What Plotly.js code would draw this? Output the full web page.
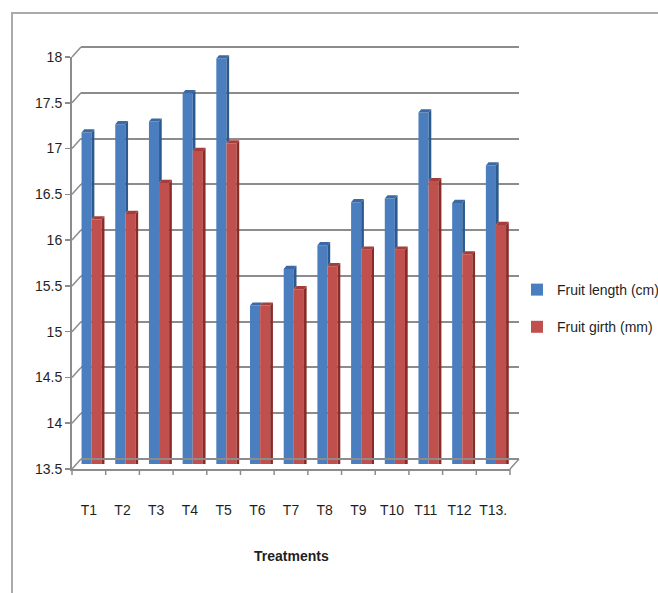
<!DOCTYPE html>
<html>
<head>
<meta charset="utf-8">
<script src="https://cdn.plot.ly/plotly-3.0.1.min.js"></script>
<style>
  html, body { margin: 0; padding: 0; background: #ffffff; }
  #wrap { position: relative; width: 658px; height: 593px; overflow: hidden; }
  #chart { width: 658px; height: 593px; }
  #frame { position: absolute; left: 11px; top: 12px; width: 700px; height: 700px;
           border-left: 2px solid #ababab; border-top: 2px solid #ababab; pointer-events: none; }
</style>
</head>
<body>
<div id="wrap"><div id="chart"></div><div id="frame"></div></div>
<script>
// Treatments on the category axis
const treatments = ['T1', 'T2', 'T3', 'T4', 'T5', 'T6', 'T7', 'T8', 'T9', 'T10', 'T11', 'T12', 'T13.'];
// Fruit length (cm)
const fruitLength = [17.12, 17.21, 17.24, 17.55, 17.93, 15.23, 15.63, 15.89, 16.36, 16.40, 17.34, 16.35, 16.76];
// Fruit girth (mm)
const fruitGirth = [16.17, 16.23, 16.57, 16.92, 17.00, 15.23, 15.41, 15.66, 15.84, 15.84, 16.59, 15.79, 16.11];
// Value axis ticks
const yTickVals = [13.5, 14, 14.5, 15, 15.5, 16, 16.5, 17, 17.5, 18];
const yTickText = ['13.5', '14', '14.5', '15', '15.5', '16', '16.5', '17', '17.5', '18'];
const seriesNames = ['Fruit length (cm)', 'Fruit girth (mm)'];

// ---- pseudo-3D geometry: front plane (axes), middle plane (bars), back wall (grid)
const PLOT_W = 447, PLOT_H = 422;          // plot area in px
const SPAN_W = 438, SPAN_H = 412;          // size of each plane in px
const FRONT = { dx: 0, dy: 0 }, MID = { dx: 4.5, dy: 5 }, BACK = { dx: 9, dy: 10 };
function domainOf(p) {
  return {
    x: [p.dx / PLOT_W, (p.dx + SPAN_W) / PLOT_W],
    y: [p.dy / PLOT_H, (p.dy + SPAN_H) / PLOT_H]
  };
}
const yRange = [13.5, 18];
const xRange = [-0.5, treatments.length - 0.5];
const idx = treatments.map((_, i) => i);

const BLUE = '#4a7ebf', BLUE_SIDE = '#2c5a8e', BLUE_TOP = '#3a69a3';
const RED = '#c0504d', RED_SIDE = '#8a2b28', RED_TOP = '#a53e3b';
const GRID = '#8c8c8c';
const FONT = '"Liberation Sans Narrow", "Liberation Sans", Arial, sans-serif';

const barW = 0.3, blueOff = -0.35, redOff = -0.05;
const depthX = 0.08;      // side-face depth, category units
const depthY = 0.035;     // top-face rise, value units

const traces = [
  // empty placeholder so the back-wall subplot (and its grid) exists
  { type: 'scatter', mode: 'lines', x: [xRange[0]], y: [null], xaxis: 'x', yaxis: 'y',
    showlegend: false, hoverinfo: 'skip' },
  {
    type: 'bar', name: seriesNames[0], x: idx, y: fruitLength,
    offset: blueOff, width: barW, xaxis: 'x2', yaxis: 'y2',
    marker: { color: BLUE, line: { width: 0 } }, legendgroup: 'a', hoverinfo: 'skip'
  },
  {
    type: 'bar', name: seriesNames[1], x: idx, y: fruitGirth,
    offset: redOff, width: barW, xaxis: 'x2', yaxis: 'y2',
    marker: { color: RED, line: { width: 0 } }, legendgroup: 'b', hoverinfo: 'skip'
  }
];

// 3D faces of the columns, built from the same values
const shapes = [];
function pathOf(pts) { return 'M' + pts.map(p => p[0] + ',' + p[1]).join('L') + 'Z'; }
function face(pts, color) {
  shapes.push({ type: 'path', xref: 'x2', yref: 'y2', path: pathOf(pts),
                fillcolor: color, line: { width: 0 }, layer: 'above' });
}
idx.forEach(i => {
  const L = fruitLength[i], G = fruitGirth[i];
  const bl = i + blueOff, br = bl + barW;
  if (L > G) face([[br, G], [br, L], [br + depthX, L + depthY], [br + depthX, G + depthY]], BLUE_SIDE);
  face([[bl, L], [bl + depthX, L + depthY], [br + depthX, L + depthY], [br, L]], BLUE_TOP);
});
idx.forEach(i => {
  const G = fruitGirth[i];
  const rl = i + redOff, rr = rl + barW;
  face([[rr, 13.3], [rr, G], [rr + depthX, G + depthY], [rr + depthX, 13.3 + depthY]], RED_SIDE);
  face([[rl, G], [rl + depthX, G + depthY], [rr + depthX, G + depthY], [rr, G]], RED_TOP);
});

// wall edges: drawn relative to the front axes' domain, offset toward the back wall
const span = yRange[1] - yRange[0];
function wallEdge(xFrac, yFrac) {
  shapes.push({ type: 'line', xref: 'x3 domain', yref: 'y3 domain',
    xsizemode: 'pixel', xanchor: xFrac, x0: 0, x1: BACK.dx,
    ysizemode: 'pixel', yanchor: yFrac, y0: 0, y1: BACK.dy,
    line: { color: GRID, width: 1.5 } });
}
yTickVals.forEach(v => wallEdge(0, (v - yRange[0]) / span));
wallEdge(1, 0);   // floor right edge
// top and bottom lines of the back wall
[0, 1].forEach(f => {
  shapes.push({ type: 'line', xref: 'x domain', yref: 'y domain', x0: 0, x1: 1, y0: f, y1: f,
                line: { color: GRID, width: 2 } });
});
// category boundary ticks on the front axis
for (let k = 0; k <= treatments.length; k++) {
  shapes.push({ type: 'line', xref: 'x3 domain', yref: 'y3 domain',
    x0: k / treatments.length, x1: k / treatments.length,
    ysizemode: 'pixel', yanchor: 0, y0: 0, y1: -6,
    line: { color: GRID, width: 1.5 } });
}

const dB = domainOf(BACK), dM = domainOf(MID), dF = domainOf(FRONT);
const hidden = { visible: false, fixedrange: true };

const layout = {
  width: 658, height: 593,
  margin: { l: 72, r: 658 - 72 - PLOT_W, t: 593 - 124 - PLOT_H, b: 124, autoexpand: false },
  paper_bgcolor: 'rgba(0,0,0,0)', plot_bgcolor: 'rgba(0,0,0,0)',
  barmode: 'overlay',
  font: { family: FONT, size: 14, color: '#1f1f1f' },
  // back wall
  xaxis: Object.assign({}, hidden, { domain: dB.x, range: xRange, anchor: 'y' }),
  yaxis: { domain: dB.y, range: yRange, anchor: 'x', tickmode: 'array', tickvals: yTickVals,
           showgrid: true, gridcolor: GRID, gridwidth: 2, showticklabels: false, ticks: '',
           zeroline: false, showline: false, fixedrange: true },
  // column plane
  xaxis2: Object.assign({}, hidden, { domain: dM.x, range: xRange, anchor: 'y2' }),
  yaxis2: Object.assign({}, hidden, { domain: dM.y, range: yRange, anchor: 'x2' }),
  // front axes
  xaxis3: { domain: dF.x, range: xRange, anchor: 'y3', tickmode: 'array', tickvals: idx,
            ticktext: treatments, ticks: 'outside', ticklen: 27, tickcolor: 'rgba(0,0,0,0)',
            showline: true, linecolor: GRID, linewidth: 2, showgrid: false, zeroline: false,
            tickfont: { size: 14, color: '#1f1f1f' }, fixedrange: true },
  yaxis3: { domain: dF.y, range: yRange, anchor: 'x3', tickmode: 'array', tickvals: yTickVals,
            ticktext: yTickText, ticks: 'outside', ticklen: 5, tickwidth: 1.5, tickcolor: GRID,
            showline: true, linecolor: GRID, linewidth: 2, showgrid: false, zeroline: false,
            tickfont: { size: 14, color: '#1f1f1f' }, fixedrange: true },
  showlegend: true,
  legend: { xref: 'container', yref: 'container', x: 517 / 658, xanchor: 'left',
            y: 1 - 274 / 593, yanchor: 'top',
            font: { size: 14, color: '#1f1f1f' }, bgcolor: 'rgba(0,0,0,0)',
            traceorder: 'grouped', tracegroupgap: 16, itemwidth: 30 },
  annotations: [{
    text: '<b>Treatments</b>', xref: 'x3', x: (treatments.length - 1) / 2, yref: 'paper', y: 0,
    yanchor: 'middle', yshift: -87, showarrow: false, font: { size: 14, color: '#1f1f1f' }
  }],
  shapes: shapes
};

Plotly.newPlot('chart', traces, layout, { displayModeBar: false, staticPlot: true });
</script>
</body>
</html>
